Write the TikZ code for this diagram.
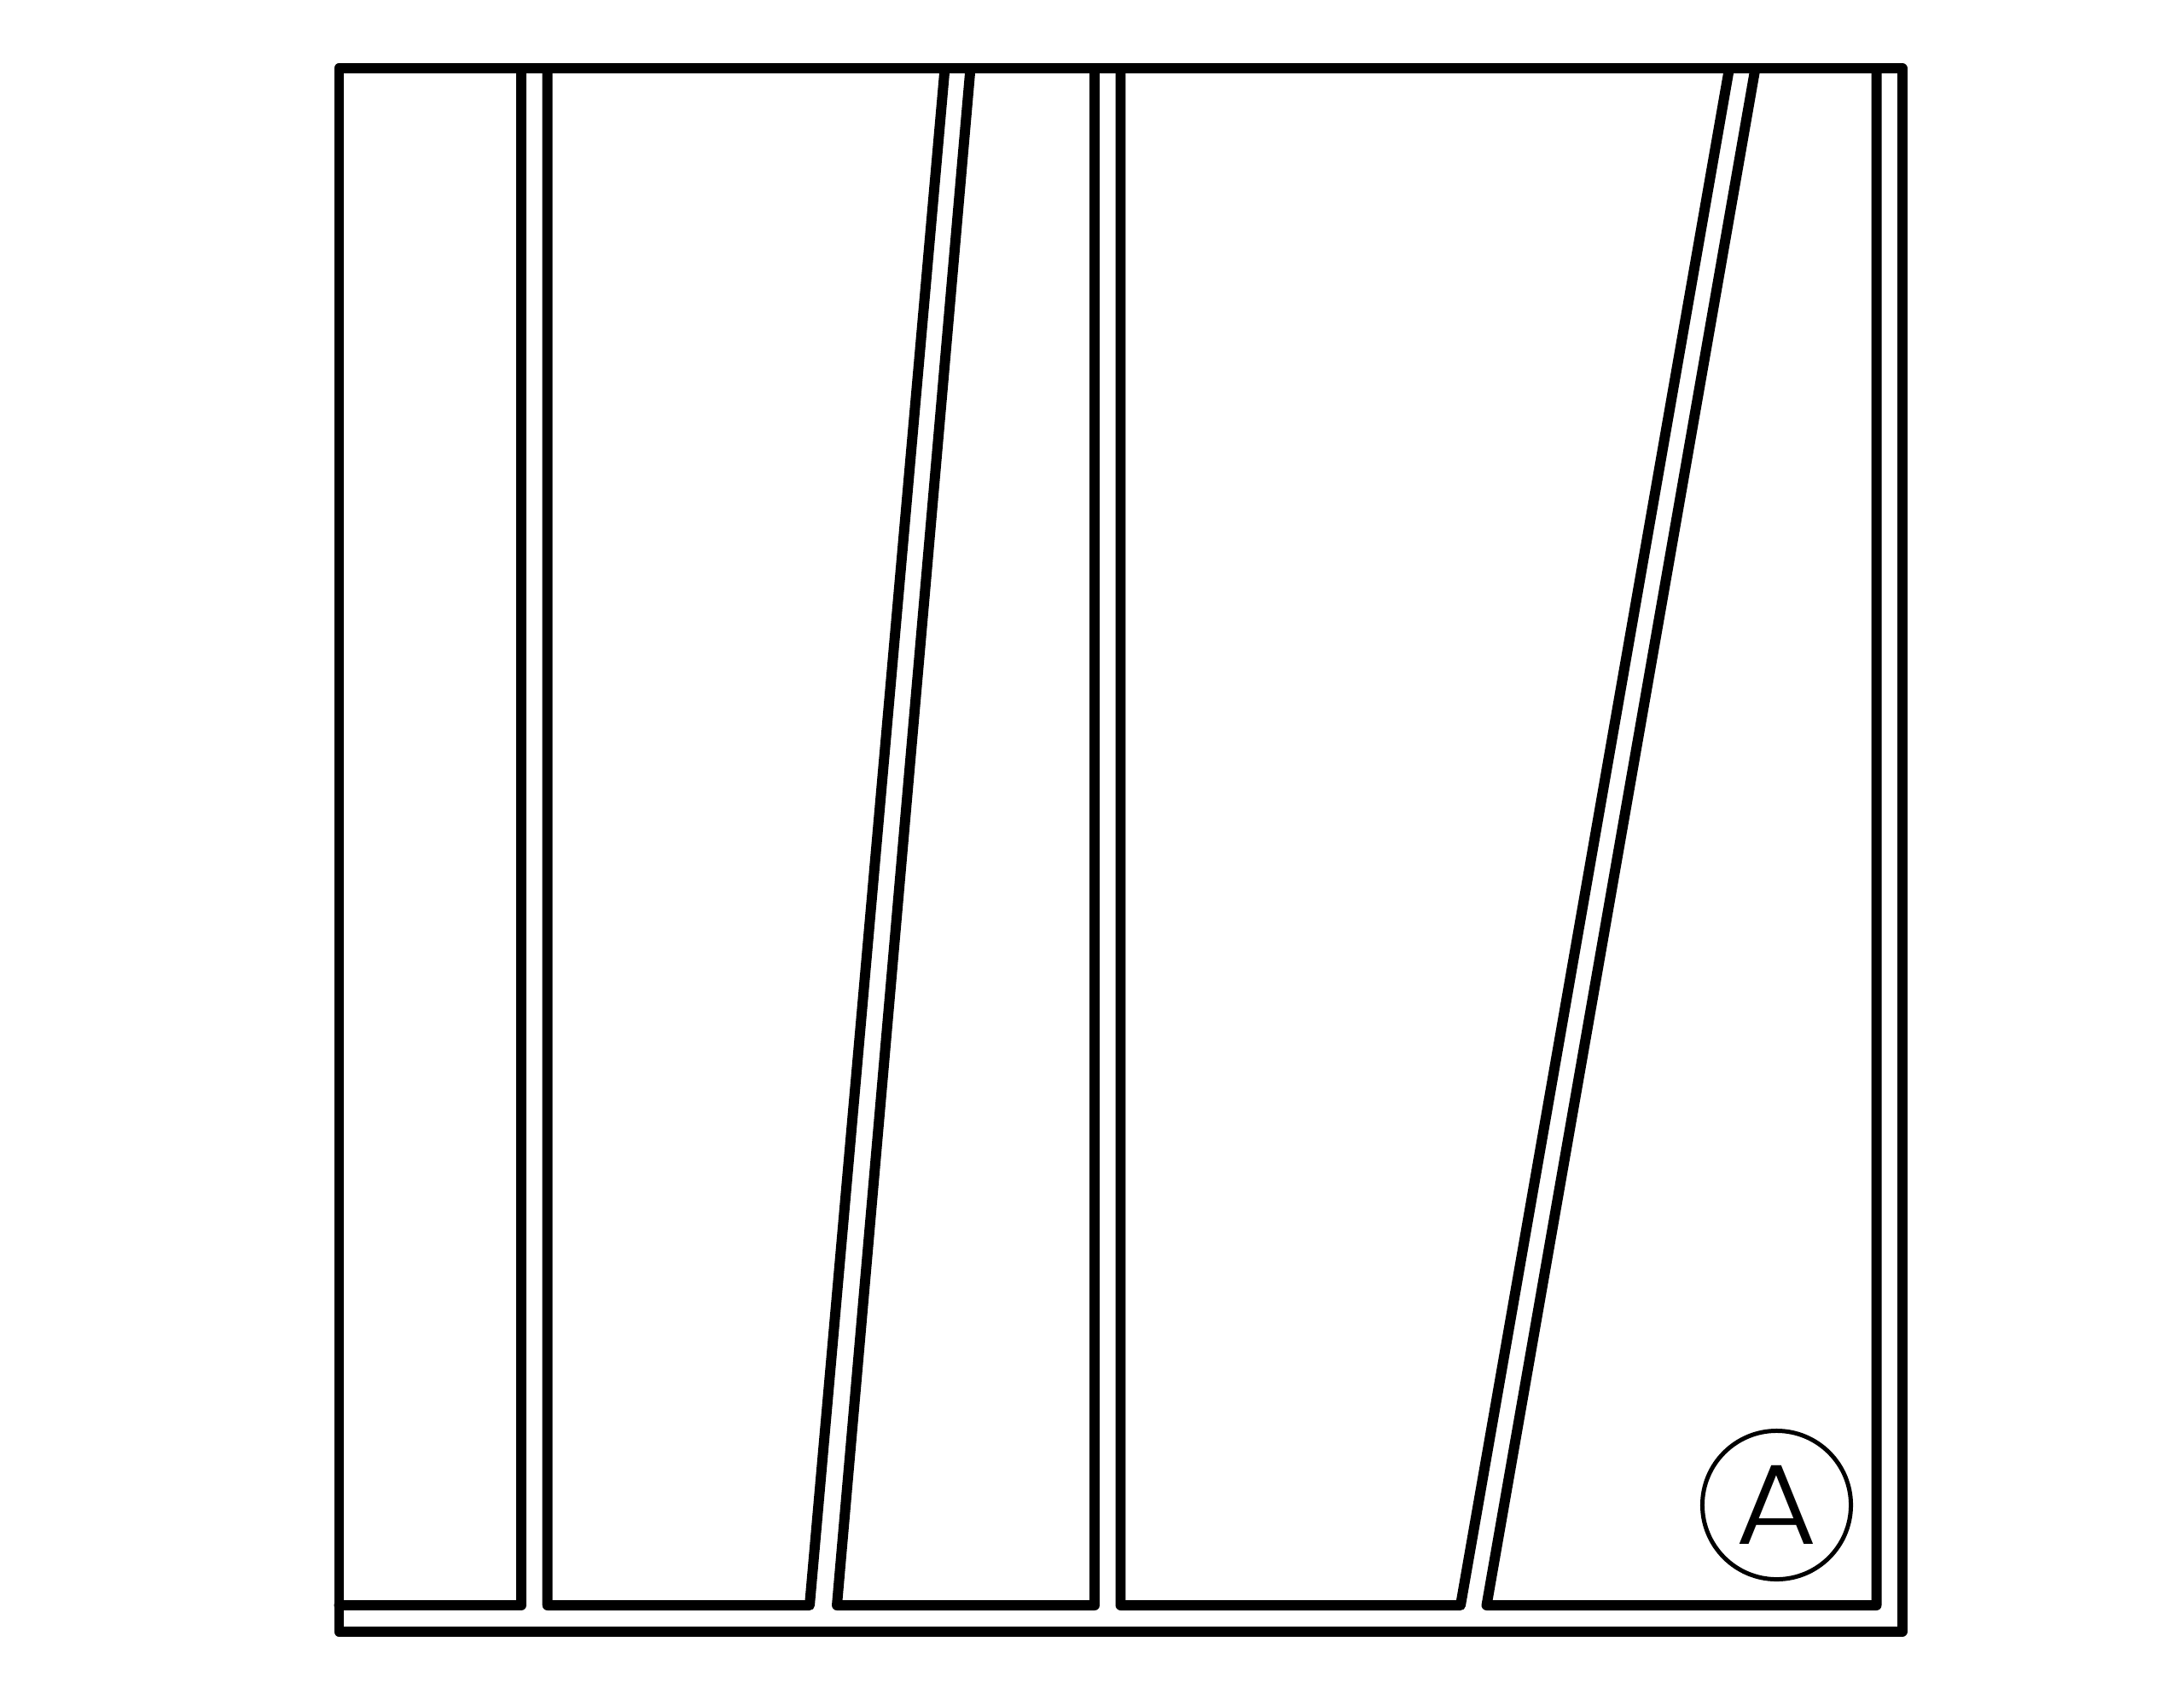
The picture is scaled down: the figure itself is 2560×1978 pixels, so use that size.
\documentclass[tikz,border=0pt]{standalone}
\usepackage{fontspec}
\newfontfamily\labelfont{Poppins}[UprightFont=* Light]
\begin{document}
\begin{tikzpicture}[x=0.01cm,y=-0.01cm,
  frame/.style={line width=3.4pt,line join=round,line cap=round},
  mark circle/.style={circle,draw,line width=1.42pt,minimum size=1.74cm,inner sep=0pt,
    font=\labelfont\fontsize{38}{38}\selectfont}]
\useasboundingbox (0,0) rectangle (2560,1978);
% outer frame
\draw[frame] (397.5,80) rectangle (2229.5,1913);
% panel 1
\draw[frame] (397.5,1882) -- (611,1882) -- (611,80);
% panel 2
\draw[frame] (641.7,80) -- (641.7,1882) -- (949,1882) -- (1107.5,80);
% panel 3
\draw[frame] (1137.5,80) -- (981,1882) -- (1283,1882) -- (1283,80);
% panel 4
\draw[frame] (1313.5,80) -- (1313.5,1882) -- (1712,1882) -- (2027,80);
% panel 5
\draw[frame] (2057.5,80) -- (1742.5,1882) -- (2199.5,1882) -- (2199.5,80);
% label
\node[mark circle] (markA) at (2082.5,1764.5) {\scalebox{1.1}[1]{A}};
\end{tikzpicture}
\end{document}
